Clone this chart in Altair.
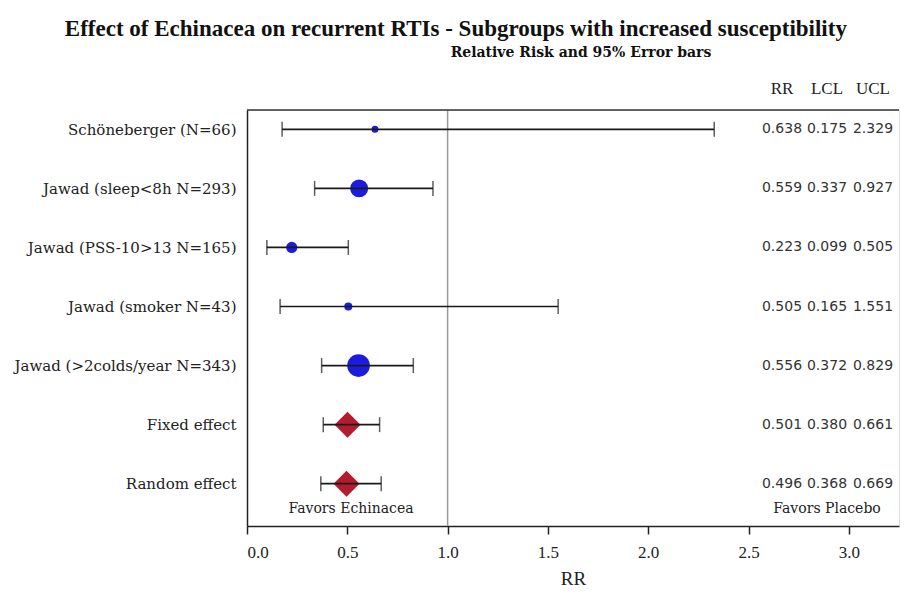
import json
import math
import altair as alt
import pandas as pd

# ---- data ----
labels = ["Schöneberger (N=66)", "Jawad (sleep<8h N=293)", "Jawad (PSS-10>13 N=165)",
          "Jawad (smoker N=43)", "Jawad (>2colds/year N=343)", "Fixed effect", "Random effect"]
rr = [0.638, 0.559, 0.223, 0.505, 0.556, 0.501, 0.496]
lcl = [0.175, 0.337, 0.099, 0.165, 0.372, 0.380, 0.368]
ucl = [2.329, 0.927, 0.505, 1.551, 0.829, 0.661, 0.669]
kind = ["study", "study", "study", "study", "study", "pooled", "pooled"]
x_ticks = [0.0, 0.5, 1.0, 1.5, 2.0, 2.5, 3.0]

rows = list(range(1, len(labels) + 1))
# inverse-variance weight of each study (drives the dot size)
weight = [1.0 / (((math.log(u) - math.log(l)) / (2 * 1.96)) ** 2) for l, u in zip(lcl, ucl)]

df = pd.DataFrame({"label": labels, "row": rows, "RR": rr, "LCL": lcl, "UCL": ucl,
                   "kind": kind, "weight": weight})

W, H = 652, 416
FONT_SERIF = "DejaVu Serif"

xscale = alt.Scale(domain=[0, 3.25], nice=False, zero=True)
yscale = alt.Scale(domain=[0.673, 7.716], reverse=True, nice=False, zero=False)

label_expr = json.dumps(labels, ensure_ascii=False) + "[datum.value - 1]"

x_enc = alt.X("RR:Q", scale=xscale,
              axis=alt.Axis(values=x_ticks, format=".1f", title="RR", grid=False,
                            domainColor="#222", domainWidth=1.5, tickColor="#222",
                            tickWidth=1.5, tickSize=8, labelFont="Liberation Serif",
                            labelFontSize=17, labelColor="#222", labelPadding=10,
                            titleFont="Liberation Serif", titleFontSize=19,
                            titleFontWeight="normal", titleColor="#222", titlePadding=9))
y_enc = alt.Y("row:Q", scale=yscale,
              axis=alt.Axis(values=rows, labelExpr=label_expr, title=None, grid=False,
                            ticks=False, domainColor="#222", domainWidth=1.5,
                            labelFont=FONT_SERIF, labelFontSize=15, labelColor="#222",
                            labelPadding=11, labelLimit=400, minExtent=235, maxExtent=235))

base = alt.Chart(df)

ref = alt.Chart(pd.DataFrame({"v": [1.0]})).mark_rule(color="#9a9a9a", strokeWidth=1.5).encode(
    x=alt.X("v:Q", scale=xscale))

top_line = alt.Chart(pd.DataFrame({"v": [1.0]})).mark_rule(color="#333", strokeWidth=1.5).encode(
    x=alt.value(0), x2=alt.value(W), y=alt.value(0))

dots = base.transform_filter(alt.datum.kind == "study").mark_point(
    shape="circle", filled=True, color="#1c1ce0", opacity=1).encode(
    x=x_enc, y=y_enc,
    size=alt.Size("weight:Q", scale=alt.Scale(domain=[0, 24], range=[0, 515]), legend=None))

diamonds = base.transform_filter(alt.datum.kind == "pooled").mark_point(
    shape="diamond", filled=True, color="#b31b2e", size=676, opacity=1).encode(
    x=x_enc, y=y_enc)

err = base.mark_rule(color="#1a1a1a", strokeWidth=1.7).encode(
    x=alt.X("LCL:Q", scale=xscale), x2="UCL:Q", y=alt.Y("row:Q", scale=yscale))
cap_l = base.mark_tick(orient="vertical", color="#1a1a1a", size=15, thickness=1.5).encode(
    x=alt.X("LCL:Q", scale=xscale), y=alt.Y("row:Q", scale=yscale))
cap_r = base.mark_tick(orient="vertical", color="#1a1a1a", size=15, thickness=1.5).encode(
    x=alt.X("UCL:Q", scale=xscale), y=alt.Y("row:Q", scale=yscale))

col_x = {"RR": 535, "LCL": 580, "UCL": 626}
value_texts = []
for col, px in col_x.items():
    value_texts.append(base.mark_text(font="DejaVu Sans", fontSize=14, color="#333",
                                      align="center", baseline="middle").encode(
        x=alt.value(px), y=alt.Y("row:Q", scale=yscale), text=alt.Text(f"{col}:Q", format=".3f")))
    value_texts.append(alt.Chart(pd.DataFrame({"t": [col]})).mark_text(
        font="Liberation Serif", fontSize=17, color="#222", align="center", baseline="middle").encode(
        x=alt.value(px), y=alt.value(-21), text="t:N"))

favors = alt.Chart(pd.DataFrame({"t": ["Favors Echinacea", "Favors Placebo"],
                                 "px": [104, 580]})).mark_text(
    font=FONT_SERIF, fontSize=14, color="#222", align="center", baseline="middle").encode(
    x=alt.X("px:Q", scale=None), y=alt.value(399), text="t:N")

subtitle = alt.Chart(pd.DataFrame({"t": ["Relative Risk and 95% Error bars"]})).mark_text(
    font=FONT_SERIF, fontSize=14, fontWeight="bold", color="#111", align="center",
    baseline="middle").encode(x=alt.value(334), y=alt.value(-57), text="t:N")

chart = alt.layer(ref, top_line, dots, diamonds, err, cap_l, cap_r, *value_texts, favors, subtitle).properties(
    width=W, height=H,
    padding={"left": 4, "top": 10, "right": 0, "bottom": 0},
    title=alt.TitleParams("Effect of Echinacea on recurrent RTIs - Subgroups with increased susceptibility",
                          font="Liberation Serif", fontSize=23, fontWeight="bold", color="#111",
                          anchor="middle", frame="bounds", offset=5),
).configure_view(stroke=None).configure(background="white")

chart.save("out.html", embed_options={"renderer": "svg", "actions": False})
